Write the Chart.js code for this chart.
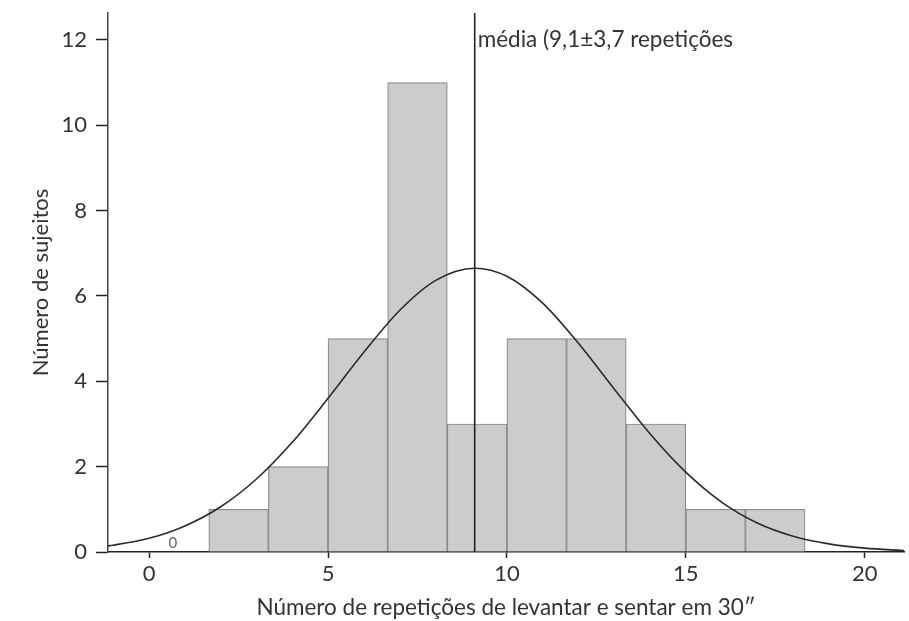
<!DOCTYPE html>
<html lang="pt">
<head>
    <meta charset="UTF-8">
    <title>Histograma - levantar e sentar</title>
    <script src="https://cdn.jsdelivr.net/npm/chart.js"></script>
    <style>
        body {
            margin: 0;
            padding: 0;
            background-color: #ffffff;
        }

        .chart-container {
            position: relative;
            width: 909px;
            height: 621px;
        }
    </style>
</head>
<body>
    <div class="chart-container">
        <canvas id="histChart" width="909" height="621"></canvas>
    </div>

    <script>
        // histogram bins (width 5/3 repetitions) and counts
        const binStarts = [0, 1.667, 3.333, 5, 6.667, 8.333, 10, 11.667, 13.333, 15, 16.667];
        const binWidth = 1.667;
        const counts = [0, 1, 2, 5, 11, 3, 5, 5, 3, 1, 1];

        // fitted normal curve
        const curveX = [-1.5, -1, 0, 1, 2, 3, 4, 5, 6, 7, 8, 9.1, 10, 11, 12, 13, 14, 15, 16, 17, 18, 19, 20, 21, 21.5];
        const curveY = [0.11, 0.16, 0.32, 0.61, 1.06, 1.71, 2.57, 3.6, 4.68, 5.66, 6.36, 6.65, 6.46, 5.83, 4.89, 3.82, 2.77, 1.87, 1.17, 0.68, 0.37, 0.19, 0.09, 0.04, 0.02];

        const meanValue = 9.1;
        const meanLabel = 'média (9,1±3,7 repetições';
        const xTicks = [0, 5, 10, 15, 20];
        const yTicks = [0, 2, 4, 6, 8, 10, 12];

        const fontFamily = 'Lato, "Open Sans", sans-serif';
        const textColor = '#333333';

        const barData = binStarts.map((s, i) => ({ x: s + binWidth / 2, y: counts[i] }));
        const curveData = curveX.map((x, i) => ({ x: x, y: curveY[i] }));

        // draws the mean label and the zero count label
        const labelPlugin = {
            id: 'labels',
            afterDatasetsDraw(chart) {
                const ctx = chart.ctx;
                const xs = chart.scales.x;
                const ys = chart.scales.y;
                ctx.save();
                ctx.fillStyle = textColor;
                ctx.font = '22.5px ' + fontFamily;
                ctx.textAlign = 'left';
                ctx.textBaseline = 'middle';
                ctx.fillText(meanLabel, xs.getPixelForValue(meanValue) + 3, 40);

                ctx.font = '15px ' + fontFamily;
                ctx.fillStyle = '#666666';
                ctx.textAlign = 'center';
                ctx.textBaseline = 'bottom';
                const meta = chart.getDatasetMeta(0);
                meta.data.forEach((bar, i) => {
                    if (counts[i] === 0) {
                        ctx.fillText('0', bar.x - 6, ys.getPixelForValue(0) - 1);
                    }
                });
                ctx.restore();
            }
        };

        const ctx = document.getElementById('histChart').getContext('2d');
        new Chart(ctx, {
            data: {
                datasets: [
                    {
                        type: 'bar',
                        data: barData,
                        backgroundColor: '#cccccc',
                        borderColor: '#8a8a8a',
                        borderWidth: 1.2,
                        barPercentage: 1,
                        categoryPercentage: 1,
                        order: 3
                    },
                    {
                        type: 'line',
                        data: curveData,
                        borderColor: '#2a2a2a',
                        borderWidth: 1.6,
                        pointRadius: 0,
                        cubicInterpolationMode: 'monotone',
                        fill: false,
                        order: 1
                    },
                    {
                        type: 'line',
                        data: [{ x: meanValue, y: 0 }, { x: meanValue, y: 12.63 }],
                        borderColor: '#222222',
                        borderWidth: 1.6,
                        pointRadius: 0,
                        fill: false,
                        order: 0
                    }
                ]
            },
            options: {
                responsive: false,
                animation: false,
                layout: {
                    padding: { top: 13, right: 5, left: 0, bottom: 0 }
                },
                plugins: {
                    legend: { display: false },
                    tooltip: { enabled: false }
                },
                scales: {
                    x: {
                        type: 'linear',
                        offset: false,
                        min: -1.15,
                        max: 21.1,
                        afterFit: s => { s.height = 69; },
                        afterBuildTicks: s => { s.ticks = xTicks.map(v => ({ value: v })); },
                        border: { display: true, color: '#222222', width: 1.5 },
                        grid: {
                            offset: false,
                            drawOnChartArea: false,
                            drawTicks: true,
                            tickLength: 6,
                            tickColor: '#222222',
                            tickWidth: 1.5
                        },
                        ticks: {
                            autoSkip: false,
                            maxRotation: 0,
                            padding: 3,
                            color: textColor,
                            font: { family: fontFamily, size: 22 }
                        },
                        title: {
                            display: true,
                            text: 'Número de repetições de levantar e sentar em 30″',
                            color: textColor,
                            font: { family: fontFamily, size: 22.5 },
                            padding: { top: 4, bottom: 0 }
                        }
                    },
                    y: {
                        type: 'linear',
                        min: 0,
                        max: 12.63,
                        afterFit: s => { s.width = 108; s.paddingTop = 0; s.paddingBottom = 0; },
                        afterBuildTicks: s => { s.ticks = yTicks.map(v => ({ value: v })); },
                        border: { display: true, color: '#444444', width: 1.5 },
                        grid: {
                            drawOnChartArea: false,
                            drawTicks: true,
                            tickLength: 12,
                            tickColor: '#222222',
                            tickWidth: 1.5
                        },
                        ticks: {
                            autoSkip: false,
                            padding: 9,
                            color: textColor,
                            font: { family: fontFamily, size: 22 }
                        },
                        title: {
                            display: true,
                            text: 'Número de sujeitos',
                            color: textColor,
                            font: { family: fontFamily, size: 22 },
                            padding: { top: 28, bottom: 0 }
                        }
                    }
                }
            },
            plugins: [labelPlugin]
        });
    </script>
</body>
</html>
